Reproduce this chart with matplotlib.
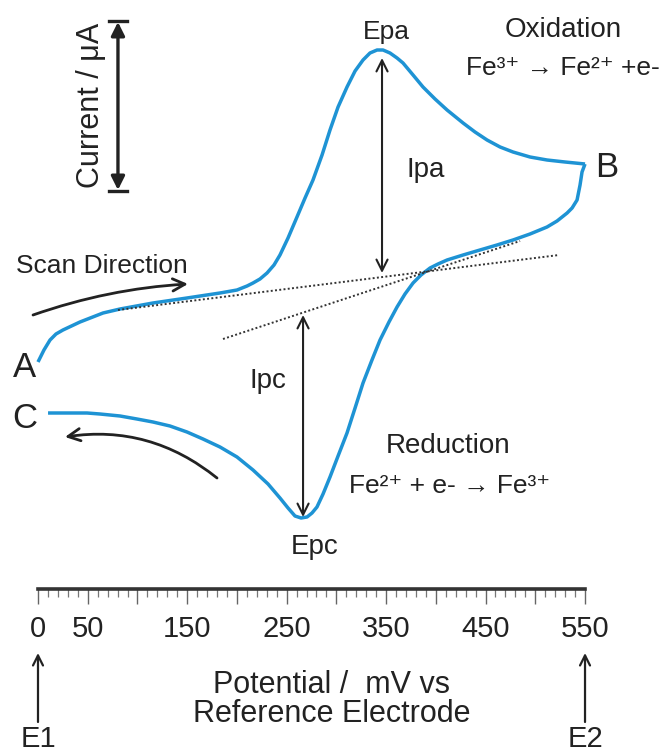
import matplotlib
matplotlib.use('Agg')
import matplotlib.pyplot as plt
from matplotlib.patches import FancyArrowPatch

plt.rcParams['font.family'] = ['Liberation Sans', 'DejaVu Sans']

# ---------------- data (potential in mV, current in arbitrary uA) ----------------
fwd_potential = [0, 6.0, 12.1, 18.1, 25.1, 42.2, 65.4, 82.5, 115.6, 149.8, 183.0, 200.1,
                 210.2, 216.2, 223.2, 230.3, 237.3, 243.3, 251.4, 260.4, 268.5, 276.5,
                 285.6, 293.6, 301.7, 310.7, 318.8, 326.8, 333.8, 340.9, 346.9, 353.9,
                 361.0, 367.0, 377.1, 387.1, 399.2, 411.3, 427.4, 439.4, 451.5, 464.6,
                 477.6, 494.7, 511.8, 529.9, 550]
fwd_current = [-6.2, -5.0, -4.0, -3.4, -3.0, -2.2, -1.3, -0.9, -0.3, 0.2, 0.7, 1.0,
               1.4, 1.7, 2.1, 2.7, 3.5, 4.5, 6.2, 8.3, 10.2, 12.0,
               14.5, 17.0, 19.3, 21.3, 22.9, 24.0, 24.7, 25.0, 25.0, 24.7,
               24.2, 23.7, 22.5, 21.3, 20.1, 19.0, 17.7, 16.8, 16.0, 15.3,
               14.8, 14.3, 14.0, 13.8, 13.6]

rev_potential = [550, 547, 545, 542, 537, 532, 521.9, 511.8, 494.7, 477.6, 461.5, 444.4,
                 427.4, 411.3, 402.2, 394.2, 385.1, 377.1, 369.0, 361.0, 352.9, 343.9,
                 335.8, 326.8, 318.8, 310.7, 301.7, 293.6, 286.6, 280.5, 275.5, 270.5,
                 264.5, 258.4, 251.4, 243.3, 231.3, 216.2, 200.1, 183.0, 165.9, 149.8,
                 132.7, 115.6, 99.5, 82.5, 62.3, 49.3, 32.2, 10.1]
rev_current = [13.6, 12.8, 11.5, 10.0, 9.2, 8.7, 7.9, 7.3, 6.6, 6.0, 5.5, 5.0,
               4.5, 4.0, 3.6, 3.2, 2.5, 1.7, 0.6, -0.7, -2.2, -4.0,
               -6.0, -8.3, -10.8, -13.3, -15.6, -17.7, -19.4, -20.7, -21.3, -21.7,
               -21.8, -21.6, -20.8, -19.8, -18.4, -17.0, -15.7, -14.7, -13.9, -13.2,
               -12.6, -12.2, -11.9, -11.6, -11.4, -11.3, -11.3, -11.3]

# baselines used to measure the peak currents
base_anodic_x = [80.4, 523.9]
base_anodic_y = [-1.0, 4.5]
base_cathodic_x = [186, 484.7]
base_cathodic_y = [-3.9, 5.9]

# peak current arrows (x, y_from, y_to)
ipa = (345.9, 2.7, 24.2)
ipc = (266.5, -1.5, -21.7)

tick_values = list(range(0, 551, 50))
tick_labels = ['0', '50', '', '150', '', '250', '', '350', '', '450', '', '550']

# ---------------- figure ----------------
W, H = 662, 756
fig = plt.figure(figsize=(W / 100, H / 100), dpi=100)
ax = fig.add_axes([0, 0, 1, 1])
ax.set_xlim(-38.2, 627.4)
ax.set_ylim(-45.6, 30.0)
ax.axis('off')

blue = '#1e93d4'
ink = '#222222'

ax.plot(fwd_potential, fwd_current, color=blue, lw=2.5, solid_joinstyle='round',
        solid_capstyle='butt', zorder=3)
ax.plot(rev_potential, rev_current, color=blue, lw=2.5, solid_joinstyle='round',
        solid_capstyle='butt', zorder=3)

ax.plot(base_anodic_x, base_anodic_y, color='#333333', lw=1.4, ls=(0, (1, 1.2)), zorder=4)
ax.plot(base_cathodic_x, base_cathodic_y, color='#333333', lw=1.4, ls=(0, (1, 1.2)), zorder=4)


def arrow(p0, p1, style='->', rad=0.0, lw=1.5, ms=18, color=ink):
    a = FancyArrowPatch(p0, p1, arrowstyle=style, connectionstyle=f'arc3,rad={rad}',
                        mutation_scale=ms, lw=lw, color=color, shrinkA=0, shrinkB=0,
                        zorder=5)
    ax.add_patch(a)


# Ipa / Ipc
arrow((ipa[0], ipa[1]), (ipa[0], ipa[2]), style='<->', lw=1.5, ms=20)
arrow((ipc[0], ipc[1]), (ipc[0], ipc[2]), style='<->', lw=1.5, ms=20)

# scan direction arrows
arrow((-5.0, -1.5), (150.8, 1.6), style='->', rad=-0.07, lw=2.0, ms=22)
arrow((180, -17.8), (27.1, -13.7), style='->', rad=0.22, lw=2.0, ms=22)

# current scale bar
arrow((80.4, 11.0), (80.4, 27.8), style='<|-|>', lw=2.4, ms=20)
ax.plot([71.5, 89.3], [27.9, 27.9], color=ink, lw=2.4)
ax.plot([71.5, 89.3], [10.9, 10.9], color=ink, lw=2.4)

# E1 / E2 arrows
arrow((0, -42.2), (0, -35.3), style='->', lw=1.6, ms=18)
arrow((550, -42.2), (550, -35.3), style='->', lw=1.6, ms=18)

# ---------------- text ----------------
fs = 20
ax.text(349.9, 26.1, 'Epa', ha='center', va='baseline', fontsize=19, color=ink)
ax.text(527.9, 26.3, 'Oxidation', ha='center', va='baseline', fontsize=fs, color=ink)
ax.text(527.9, 22.5, 'Fe³⁺ → Fe²⁺ +e-', ha='center', va='baseline', fontsize=19, color=ink)
ax.text(572.2, 12.3, 'B', ha='center', va='baseline', fontsize=25, color=ink)
ax.text(390.1, 12.3, 'Ipa', ha='center', va='baseline', fontsize=fs, color=ink)
ax.text(-22.1, 2.7, 'Scan Direction', ha='left', va='baseline', fontsize=19, color=ink)
ax.text(-13.1, -7.7, 'A', ha='center', va='baseline', fontsize=25, color=ink)
ax.text(-13.1, -12.8, 'C', ha='center', va='baseline', fontsize=25, color=ink)
ax.text(231.3, -8.8, 'Ipc', ha='center', va='baseline', fontsize=fs, color=ink)
ax.text(412.3, -15.3, 'Reduction', ha='center', va='baseline', fontsize=fs, color=ink)
ax.text(414.3, -19.3, 'Fe²⁺ + e- → Fe³⁺', ha='center', va='baseline', fontsize=19, color=ink)
ax.text(278.5, -25.4, 'Epc', ha='center', va='baseline', fontsize=fs, color=ink)
ax.text(53.3, 19.5, 'Current / μA', ha='center', va='center', rotation=90,
        fontsize=22, color=ink)
ax.text(295.6, -39.3, 'Potential /  mV vs', ha='center', va='baseline', fontsize=22, color=ink)
ax.text(295.6, -42.2, 'Reference Electrode', ha='center', va='baseline', fontsize=22, color=ink)
ax.text(0, -44.7, 'E1', ha='center', va='baseline', fontsize=21, color=ink)
ax.text(550, -44.7, 'E2', ha='center', va='baseline', fontsize=21, color=ink)

# ---------------- potential scale ----------------
ax2 = fig.add_axes([38 / W, 1 - 589 / H, 547 / W, 0.0001])
ax2.set_xlim(0, 550)
ax2.set_yticks([])
for s in ['top', 'left', 'right']:
    ax2.spines[s].set_visible(False)
ax2.spines['bottom'].set_linewidth(2.6)
ax2.spines['bottom'].set_color('#333333')
ax2.set_xticks(tick_values)
ax2.set_xticklabels(tick_labels)
ax2.set_xticks(range(0, 551, 10), minor=True)
ax2.tick_params(axis='x', which='major', direction='out', length=11, width=1.0,
                color='#666666', labelsize=21, labelcolor=ink, pad=8)
ax2.tick_params(axis='x', which='minor', direction='out', length=6, width=0.9,
                color='#777777')
ax2.patch.set_visible(False)

fig.savefig('out.png', dpi=100)
